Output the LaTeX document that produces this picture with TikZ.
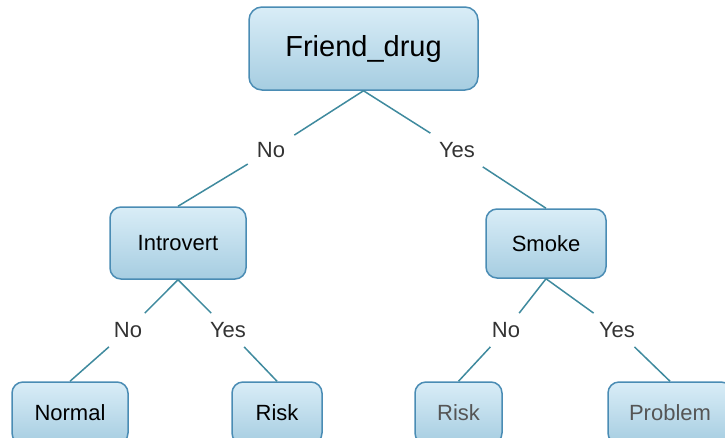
\documentclass[tikz,border=0pt]{standalone}
\usepackage{fontspec}
\setmainfont{Liberation Sans}
\definecolor{boxtop}{HTML}{D9EDF7}
\definecolor{boxbot}{HTML}{A6CDE1}
\definecolor{boxline}{HTML}{4A8CB4}
\definecolor{edgecol}{HTML}{3F8A9E}
\definecolor{labcol}{HTML}{333333}
\definecolor{fadetext}{HTML}{555555}
\tikzset{
  treebox/.style={draw=boxline, line width=1.5pt, rounded corners=11pt,
    top color=boxtop, bottom color=boxbot, inner sep=0pt,
    font=\fontsize{22}{26}\selectfont},
  branch/.style={inner sep=9pt, text=labcol, font=\fontsize{22}{26}\selectfont},
  edge/.style={draw=edgecol, line width=1.5pt},
}
\begin{document}
\begin{tikzpicture}[x=1pt,y=-1pt]
  \useasboundingbox (0,0) rectangle (725,437);
  \clip (0,0) rectangle (725,437);

  % decision nodes
  \node[treebox, minimum width=229pt, minimum height=83pt, rounded corners=13pt,
        font=\fontsize{29}{34}\selectfont] (fd) at (363.5,48.5) {Friend\_drug};
  \node[treebox, minimum width=136pt, minimum height=72pt] (intro) at (178,243) {Introvert};
  \node[treebox, minimum width=120pt, minimum height=69pt] (smoke) at (546,243.5) {Smoke};

  % leaves
  \node[treebox, minimum width=116pt, minimum height=62pt] (normal) at (70,413) {Normal};
  \node[treebox, minimum width=90pt, minimum height=62pt] (riskA) at (277,413) {Risk};
  \node[treebox, minimum width=87pt, minimum height=62pt, text=fadetext] (riskB) at (458.5,413) {Risk};
  \node[treebox, minimum width=124pt, minimum height=62pt, text=fadetext] (problem) at (670,413) {Problem};

  % branch labels
  \node[branch] (noA)  at (271,150) {No};
  \node[branch] (yesA) at (457,150) {Yes};
  \node[branch] (noB)  at (128,330) {No};
  \node[branch] (yesB) at (228,330) {Yes};
  \node[branch] (noC)  at (506,330) {No};
  \node[branch] (yesC) at (617,330) {Yes};

  % connectors
  \draw[edge] (fd.south) -- (noA) -- (intro.north);
  \draw[edge] (fd.south) -- (yesA) -- (smoke.north);
  \draw[edge] (intro.south) -- (noB) -- (normal.north);
  \draw[edge] (intro.south) -- (yesB) -- (riskA.north);
  \draw[edge] (smoke.south) -- (noC) -- (riskB.north);
  \draw[edge] (smoke.south) -- (yesC) -- (problem.north);
\end{tikzpicture}
\end{document}
